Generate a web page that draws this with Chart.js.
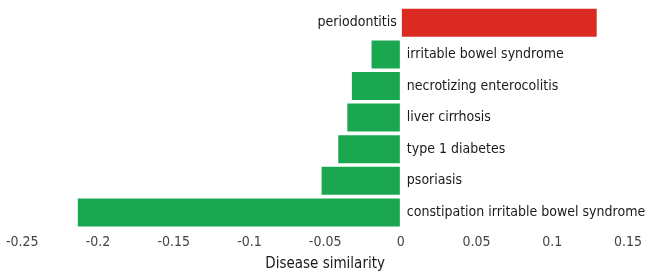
<!DOCTYPE html>
<html>
<head>
<meta charset="utf-8">
<script src="https://cdn.jsdelivr.net/npm/chart.js@4/dist/chart.umd.min.js"></script>
<style>
	html, body { margin: 0; padding: 0; background: #fff; }
	#wrap { width: 648px; height: 272px; }
</style>
</head>
<body>
<div id="wrap"><canvas id="myChart"></canvas></div>
<script>
(function(){

	"use strict";

// Chart data
	const diseases = ["periodontitis", "irritable bowel syndrome", "necrotizing enterocolitis",
		"liver cirrhosis", "type 1 diabetes", "psoriasis", "constipation irritable bowel syndrome"];
	const similarity = [0.13, -0.02, -0.033, -0.036, -0.042, -0.053, -0.214];
	const tickValues = [-0.25, -0.2, -0.15, -0.1, -0.05, 0, 0.05, 0.1, 0.15];

	const fontName = "'DejaVu Sans Condensed', 'DejaVu Sans', sans-serif";

// Bar colours: red for positive, green for negative
	var colours = similarity.map(function(v){
		return v > 0 ? "#da2a22" : "#1ba750";
	});

// Draws the disease name next to each bar, on the other side of zero
	const nameLabels = {
		id: "nameLabels",
		afterDatasetsDraw: function(chart){
			const ctx = chart.ctx;
			const xs = chart.scales.x;
			const zero = xs.getPixelForValue(0);
			const meta = chart.getDatasetMeta(0);
			ctx.save();
			ctx.font = "14px " + fontName;
			ctx.fillStyle = "#1a1a1a";
			ctx.textBaseline = "middle";
			meta.data.forEach(function(bar, i){
				if (similarity[i] < 0) {
					ctx.textAlign = "left";
					ctx.fillText(diseases[i], zero + 6, bar.y);
				}
				else {
					ctx.textAlign = "right";
					ctx.fillText(diseases[i], zero - 4, bar.y);
				}
			});
			ctx.restore();
		}
	};

	const data = {
		labels: diseases,
		datasets: [{
			data: similarity,
			backgroundColor: colours,
			borderColor: "rgba(255,255,255,0.7)",
			borderWidth: 1,
			borderSkipped: false,
			categoryPercentage: 1,
			barPercentage: 0.95
		}]
	};

	const config = {
		type: "bar",
		data,
		options: {
			indexAxis: "y",
			responsive: true,
			maintainAspectRatio: false,
			animation: false,
			layout: { padding: { left: 0, right: 4, top: 7, bottom: 0 } },
			plugins: {
				legend: { display: false },
				tooltip: { enabled: false }
			},
			scales: {
				x: {
					min: -0.25,
					max: 0.15,
					afterBuildTicks: function(axis){
						axis.ticks = tickValues.map(function(v){ return { value: v }; });
					},
					grid: { display: false, drawTicks: false },
					border: { display: false },
					ticks: {
						color: "#444",
						padding: 6,
						font: { family: fontName, size: 14 },
						maxRotation: 0,
						callback: function(v){ return String(Math.round(v * 100) / 100); }
					},
					title: {
						display: true,
						text: "Disease similarity",
						color: "#1a1a1a",
						font: { family: fontName, size: 15, lineHeight: 1.0 },
						padding: { top: 0, bottom: 0 }
					}
				},
				y: {
					display: false
				}
			}
		},
		plugins: [nameLabels]
	};

	new Chart(document.getElementById("myChart"), config);

})();
</script>
</body>
</html>
